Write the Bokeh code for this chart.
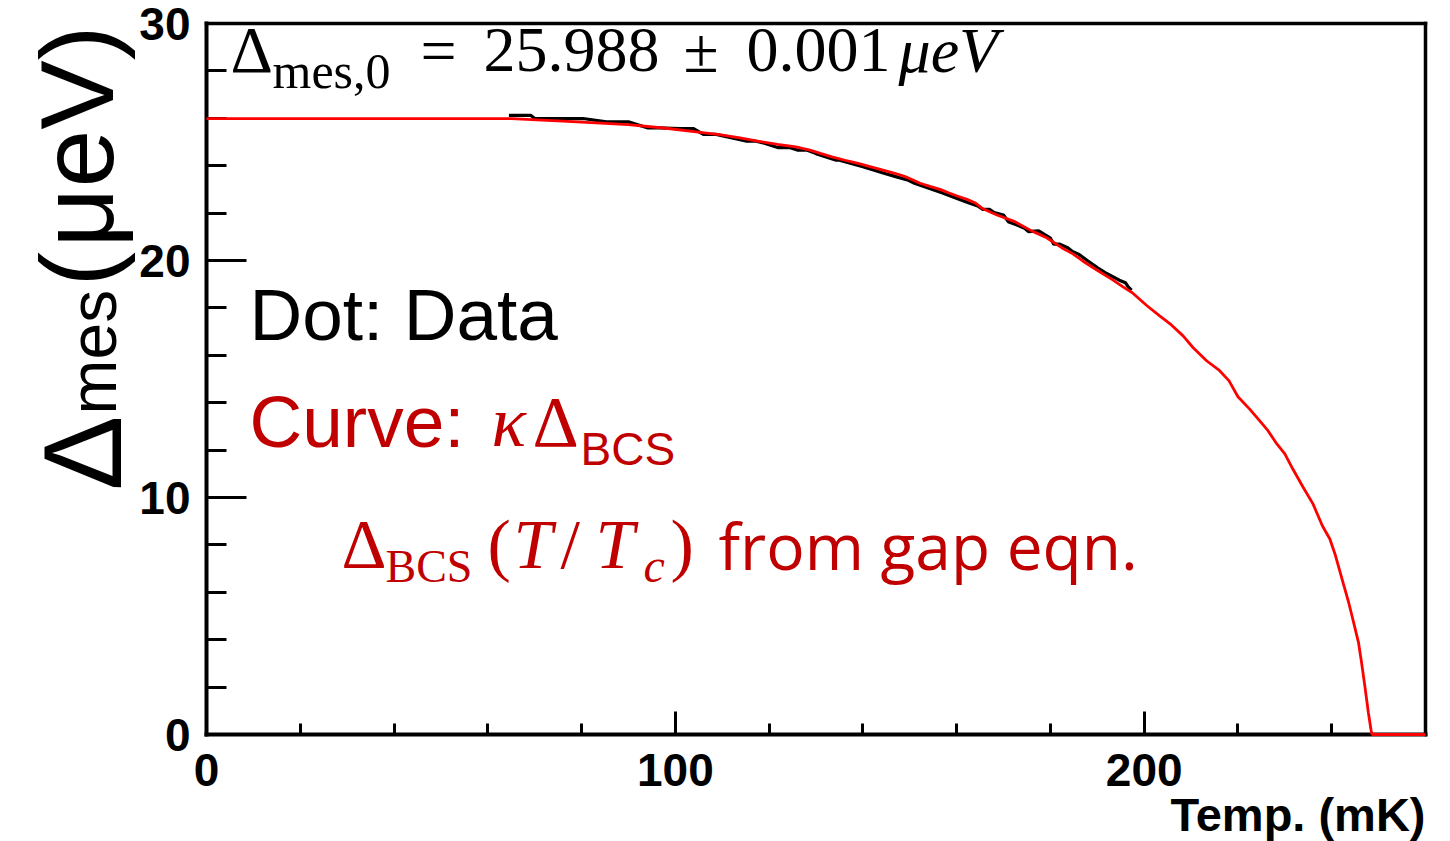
import math
from bokeh.plotting import figure
from bokeh.models import Label, FixedTicker, Range1d, LinearAxis
from bokeh.embed import file_html
from bokeh.resources import INLINE

# ---- data ----
# fitted curve  kappa * Delta_BCS(T/Tc)  (red)
temp_fit = [0, 65, 77, 90, 98, 104, 109.4, 113.8, 117.8, 121.8, 125.7, 128.7, 131.1, 133.4,
            136.2, 139.0, 141.5, 144.1, 146.8, 149.0, 150.7, 152.2, 154.3, 156.6, 158.4, 160.1,
            162.2, 163.9, 165.6, 168.6, 172.4, 176.0, 179.2, 182.4, 184.8, 186.9, 189.9, 193.3,
            195.4, 197.4, 200.6, 203.3, 205.8, 208.3, 210.4, 213.3, 216.1, 218.1, 220.0, 222.5,
            224.6, 226.4, 228.3, 230.0, 231.7, 233.9, 236.0, 238.0, 239.6, 240.8, 241.5, 242.2,
            242.9, 243.6, 244.3, 245.0, 245.7, 246.4, 247.1, 247.8, 248.4, 248.6, 260]
gap_fit = [25.99, 25.99, 25.87, 25.73, 25.58, 25.44, 25.31, 25.17, 25.03, 24.90, 24.79, 24.66,
           24.51, 24.37, 24.23, 24.10, 23.96, 23.82, 23.68, 23.54, 23.40, 23.26, 23.13, 22.99,
           22.85, 22.72, 22.58, 22.44, 22.18, 21.92, 21.64, 21.25, 20.96, 20.54, 20.28, 19.98,
           19.60, 19.18, 18.90, 18.65, 18.09, 17.66, 17.28, 16.82, 16.33, 15.77, 15.35, 14.92,
           14.25, 13.73, 13.24, 12.82, 12.26, 11.84, 11.20, 10.43, 9.73, 8.81, 8.25, 7.55, 7.05,
           6.56, 6.07, 5.58, 5.02, 4.46, 3.89, 2.98, 1.99, 0.94, 0.17, 0, 0]

# measured data (black dots)
temp_data = [64.5, 69.2, 70, 80.3, 85.3, 90, 94, 96.4, 101, 103.8, 106, 108.7, 115, 117, 119,
             122, 124.5, 126, 128, 130, 134.3, 135, 140, 144.5, 147, 149.5, 151, 155, 157,
             160.5, 162.5, 164.5, 165.5, 167, 168, 170, 171, 173, 174.5, 175.3, 177.5, 180,
             180.7, 182, 183.7, 184.7, 186, 188, 189, 190, 192, 194.7, 196, 196.6, 197.3]
gap_data = [26.12, 26.12, 25.99, 25.99, 25.85, 25.85, 25.60, 25.60, 25.57, 25.57, 25.32, 25.32,
            25.04, 25.04, 24.95, 24.76, 24.76, 24.66, 24.66, 24.51, 24.23, 24.23, 23.96, 23.68,
            23.54, 23.40, 23.26, 22.99, 22.85, 22.58, 22.44, 22.30, 22.16, 22.16, 22.02, 21.92,
            21.64, 21.49, 21.36, 21.22, 21.25, 20.94, 20.69, 20.69, 20.54, 20.38, 20.27, 19.98,
            19.84, 19.70, 19.45, 19.17, 19.06, 18.89, 18.75]

x_major = [0, 100, 200]
x_minor = [20, 40, 60, 80, 120, 140, 160, 180, 220, 240]
y_major = [0, 10, 20, 30]
y_minor = [2, 4, 6, 8, 12, 14, 16, 18, 22, 24, 26, 28]

# ---- layout: the frame covers the whole canvas; axes are pinned to the data box ----
W, H = 1450, 841
BL, BR, BT, BB = 206, 25, 23, 107
XMAX, YMAX = 260, 30
FW, FH = W - BL - BR, H - BT - BB

p = figure(width=W, height=H, output_backend="svg", toolbar_location=None,
           x_axis_type=None, y_axis_type=None,
           x_range=Range1d(-BL * XMAX / FW, XMAX + BR * XMAX / FW),
           y_range=Range1d(-BB * YMAX / FH, YMAX + BT * YMAX / FH),
           min_border=0)
p.xgrid.visible = False
p.ygrid.visible = False
p.outline_line_color = None
p.background_fill_color = "white"
p.border_fill_color = "white"


def style_axis(ax, tick_major, tick_minor, standoff):
    ax.major_tick_in = tick_major
    ax.major_tick_out = 0
    ax.minor_tick_in = tick_minor
    ax.minor_tick_out = 0
    ax.axis_line_width = 4
    ax.axis_line_cap = "square"
    ax.major_tick_line_width = 3
    ax.minor_tick_line_width = 3
    ax.major_label_text_font = "Liberation Sans"
    ax.major_label_text_font_style = "bold"
    ax.major_label_text_font_size = "46px"
    ax.major_label_text_color = "black"
    ax.major_label_standoff = standoff


xa = LinearAxis(fixed_location=0, bounds=(0, XMAX),
                ticker=FixedTicker(ticks=x_major, minor_ticks=x_minor))
style_axis(xa, 23, 11, 19)
p.add_layout(xa, "below")

ya = LinearAxis(fixed_location=0, bounds=(0, YMAX),
                ticker=FixedTicker(ticks=y_major, minor_ticks=y_minor))
style_axis(ya, 40, 20, 16)
p.add_layout(ya, "left")

# top and right sides of the frame box
for loc, where, bnd in ((YMAX, "above", (0, XMAX)), (XMAX, "right", (0, YMAX))):
    ax = LinearAxis(fixed_location=loc, bounds=bnd, ticker=FixedTicker(ticks=[]))
    ax.major_tick_in = 0
    ax.major_tick_out = 0
    ax.minor_tick_in = 0
    ax.minor_tick_out = 0
    ax.major_label_text_font_size = "0px"
    ax.axis_line_width = 3.5
    ax.axis_line_cap = "square"
    p.add_layout(ax, where)

# ---- marks ----
p.line(temp_data, gap_data, line_color="black", line_width=3.2)
p.line(temp_fit, gap_fit, line_color="#ff0000", line_width=2.8, level="overlay")


# ---- texts ----
def dx(px):
    return (px - BL) * XMAX / FW


def dy(py):
    return (H - BB - py) * YMAX / FH


SHIFT = 0.36  # Bokeh draws an alphabetic-baseline label about this many ems below its anchor


def lab(px, py, text, size, color="black", font="Liberation Sans", style="normal",
        angle=0.0, align="left"):
    if angle == 0.0:
        py = py - SHIFT * size
    else:
        px = px - SHIFT * size
    p.add_layout(Label(x=dx(px), y=dy(py), text=text, text_font_size=f"{size}px",
                       text_color=color, text_font=font, text_font_style=style,
                       angle=angle, text_align=align, text_baseline="alphabetic"))


SERIF = "Liberation Serif"
RED = "#c00000"

# fit result
lab(230, 73, "Δ", 66, font=SERIF)
lab(272, 88, "mes,0", 50, font=SERIF)
lab(420, 73, "=", 64, font=SERIF)
lab(483, 73, "25.988", 64, font=SERIF)
lab(683, 73, "±", 64, font=SERIF)
lab(746, 73, "0.001", 64, font=SERIF)
lab(898, 73, "μeV", 64, font=SERIF, style="italic")

# legend texts
lab(249, 340, "Dot: Data", 73)
lab(249, 447, "Curve:", 73, color=RED)
lab(491, 447, "κ", 72, color=RED, font=SERIF, style="italic")
lab(532, 447, "Δ", 72, color=RED, font=SERIF)
lab(580, 465, "BCS", 46, color=RED)

lab(341, 569, "Δ", 70, color=RED, font=SERIF)
lab(385, 583, "BCS", 46, color=RED, font=SERIF)
lab(487, 569, "(", 70, color=RED, font=SERIF)
lab(513, 569, "T", 70, color=RED, font=SERIF, style="italic")
lab(560, 569, "/", 70, color=RED, font=SERIF)
lab(595, 569, "T", 70, color=RED, font=SERIF, style="italic")
lab(643, 582, "c", 48, color=RED, font=SERIF, style="italic")
lab(670, 569, ")", 70, color=RED, font=SERIF)
lab(718, 568, "from gap eqn.", 64, color=RED, font="Open Sans")

# axis titles
lab(1425, 831, "Temp. (mK)", 47, style="bold", align="right")
ROT = math.pi / 2
lab(122, 490, "Δ", 112, angle=ROT)
lab(116, 414, "mes", 66, angle=ROT)
lab(114, 286, "(", 104, angle=ROT)
lab(114, 247, "μeV)", 104, angle=ROT)

open("out.html", "w").write(file_html(p, INLINE))
